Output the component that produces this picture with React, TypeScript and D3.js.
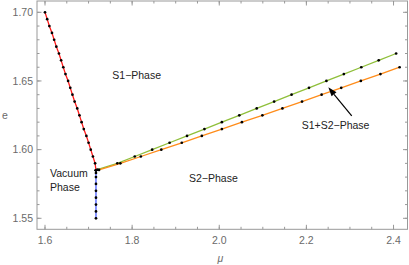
import React from "react";
import * as d3 from "d3";

// Red branch (S1 / vacuum boundary)
const redMu = [1.600, 1.605, 1.610, 1.616, 1.621, 1.626, 1.632, 1.637, 1.642, 1.647, 1.653, 1.658, 1.663, 1.668, 1.674, 1.679, 1.684, 1.689, 1.695, 1.700, 1.705, 1.710, 1.715, 1.717];
const redE = [1.700, 1.695, 1.690, 1.685, 1.680, 1.675, 1.670, 1.665, 1.660, 1.655, 1.650, 1.645, 1.640, 1.635, 1.630, 1.625, 1.620, 1.615, 1.610, 1.605, 1.600, 1.595, 1.590, 1.585];

// Blue branch (vacuum / S2 boundary)
const blueMu = [1.717, 1.717, 1.717, 1.717, 1.717, 1.717, 1.717, 1.717, 1.717];
const blueE = [1.585, 1.583, 1.580, 1.575, 1.570, 1.565, 1.560, 1.555, 1.550];

// Green branch (S1 / S1+S2 boundary)
const greenMu = [1.717, 1.720, 1.766, 1.806, 1.846, 1.886, 1.926, 1.966, 2.006, 2.046, 2.086, 2.126, 2.166, 2.206, 2.246, 2.286, 2.326, 2.366, 2.406];
const greenE = [1.585, 1.5855, 1.590, 1.595, 1.600, 1.605, 1.610, 1.615, 1.620, 1.625, 1.630, 1.635, 1.640, 1.645, 1.650, 1.655, 1.660, 1.665, 1.670];

// Orange branch (S1+S2 / S2 boundary)
const orangeMu = [1.717, 1.724, 1.773, 1.820, 1.867, 1.914, 1.960, 2.006, 2.052, 2.099, 2.145, 2.190, 2.235, 2.280, 2.325, 2.370, 2.414];
const orangeE = [1.585, 1.5852, 1.590, 1.595, 1.600, 1.605, 1.610, 1.615, 1.620, 1.625, 1.630, 1.635, 1.640, 1.645, 1.650, 1.655, 1.660];

const xTicks = [1.6, 1.8, 2.0, 2.2, 2.4];
const xTickLabels = ["1.6", "1.8", "2.0", "2.2", "2.4"];
const yTicks = [1.55, 1.60, 1.65, 1.70];
const yTickLabels = ["1.55", "1.60", "1.65", "1.70"];

const phaseLabels = [
  { text: "S1\u2212Phase", mu: 1.7545, e: 1.6512 },
  { text: "S2\u2212Phase", mu: 1.9306, e: 1.5764 },
  { text: "Vacuum", mu: 1.6115, e: 1.5799 },
  { text: "Phase", mu: 1.6115, e: 1.5699 },
  { text: "S1+S2\u2212Phase", mu: 2.1893, e: 1.6147 },
];
const arrowFrom = [2.3041, 1.6245];
const arrowTo = [2.2504, 1.6454];

const W = 409;
const H = 265;
const left = 37, right = 407.5, top = 1, bottom = 229.3;

export default function App() {
  const x = d3.scaleLinear().domain([1.58163, 2.4321]).range([left, right]);
  const y = d3.scaleLinear().domain([1.54199, 1.70823]).range([bottom, top]);

  const series = [
    { mu: redMu, e: redE, color: "#ff1a1a" },
    { mu: blueMu, e: blueE, color: "#4a5cff" },
    { mu: greenMu, e: greenE, color: "#8fbf3a" },
    { mu: orangeMu, e: orangeE, color: "#ff8c1a" },
  ];
  const line = d3.line<[number, number]>().x((d) => x(d[0])).y((d) => y(d[1]));

  const xMinor = d3.range(1.6, 2.4301, 0.05).filter((v) => v < 2.432);
  const yMinor = d3.range(1.55, 1.7001, 0.01);
  const frameColor = "#999999";
  const font = "'Liberation Sans', Arial, sans-serif";

  // arrowhead
  const ax0 = x(arrowFrom[0]), ay0 = y(arrowFrom[1]);
  const ax1 = x(arrowTo[0]), ay1 = y(arrowTo[1]);
  const ang = Math.atan2(ay1 - ay0, ax1 - ax0);
  const hl = 9, hw = 3.2;
  const bx = ax1 - hl * Math.cos(ang), by = ay1 - hl * Math.sin(ang);
  const head = [
    [ax1, ay1],
    [bx + hw * Math.sin(ang), by - hw * Math.cos(ang)],
    [bx - hw * Math.sin(ang), by + hw * Math.cos(ang)],
  ];

  return (
    <svg width={W} height={H} style={{ position: "absolute", left: 0, top: 0, background: "#fff" }}>
      {/* frame */}
      <rect x={left} y={top} width={right - left} height={bottom - top} fill="none" stroke={frameColor} strokeWidth={1} />
      {/* x ticks */}
      {xMinor.map((v, i) => (
        <g key={"xm" + i}>
          <line x1={x(v)} x2={x(v)} y1={bottom} y2={bottom - 2.5} stroke={frameColor} />
          <line x1={x(v)} x2={x(v)} y1={top} y2={top + 2.5} stroke={frameColor} />
        </g>
      ))}
      {xTicks.map((v, i) => (
        <g key={"xt" + i}>
          <line x1={x(v)} x2={x(v)} y1={bottom} y2={bottom - 4.5} stroke={frameColor} />
          <line x1={x(v)} x2={x(v)} y1={top} y2={top + 4.5} stroke={frameColor} />
          <text x={x(v)} y={bottom + 15} textAnchor="middle" fontSize={10.5} fill="#6a6a6a" fontFamily={font}>
            {xTickLabels[i]}
          </text>
        </g>
      ))}
      {/* y ticks */}
      {yMinor.map((v, i) => (
        <g key={"ym" + i}>
          <line x1={left} x2={left + 2.5} y1={y(v)} y2={y(v)} stroke={frameColor} />
          <line x1={right} x2={right - 2.5} y1={y(v)} y2={y(v)} stroke={frameColor} />
        </g>
      ))}
      {yTicks.map((v, i) => (
        <g key={"yt" + i}>
          <line x1={left} x2={left + 4.5} y1={y(v)} y2={y(v)} stroke={frameColor} />
          <line x1={right} x2={right - 4.5} y1={y(v)} y2={y(v)} stroke={frameColor} />
          <text x={left - 4} y={y(v) + 3.8} textAnchor="end" fontSize={10.5} fill="#6a6a6a" fontFamily={font}>
            {yTickLabels[i]}
          </text>
        </g>
      ))}
      {/* axis labels */}
      <text x={x(2.0) + 1} y={262} textAnchor="middle" fontSize={10.5} fontStyle="italic" fill="#6a6a6a" fontFamily={font}>
        μ
      </text>
      <text x={2} y={119} textAnchor="start" fontSize={10.5} fill="#6a6a6a" fontFamily={font}>
        e
      </text>
      {/* lines */}
      {series.map((s, i) => (
        <path
          key={"l" + i}
          d={line(s.mu.map((m, j) => [m, s.e[j]]) as [number, number][]) || ""}
          fill="none"
          stroke={s.color}
          strokeWidth={1.3}
        />
      ))}
      {/* points */}
      {series.map((s, i) =>
        s.mu.map((m, j) => <circle key={"p" + i + "-" + j} cx={x(m)} cy={y(s.e[j])} r={1.35} fill="#000" />)
      )}
      {/* labels */}
      {phaseLabels.map((l, i) => (
        <text key={"t" + i} x={x(l.mu)} y={y(l.e)} fontSize={10.5} fill="#222" fontFamily={font}>
          {l.text}
        </text>
      ))}
      {/* arrow */}
      <line x1={ax0} y1={ay0} x2={bx} y2={by} stroke="#000" strokeWidth={1.2} />
      <polygon points={head.map((p) => p.join(",")).join(" ")} fill="#000" />
    </svg>
  );
}
